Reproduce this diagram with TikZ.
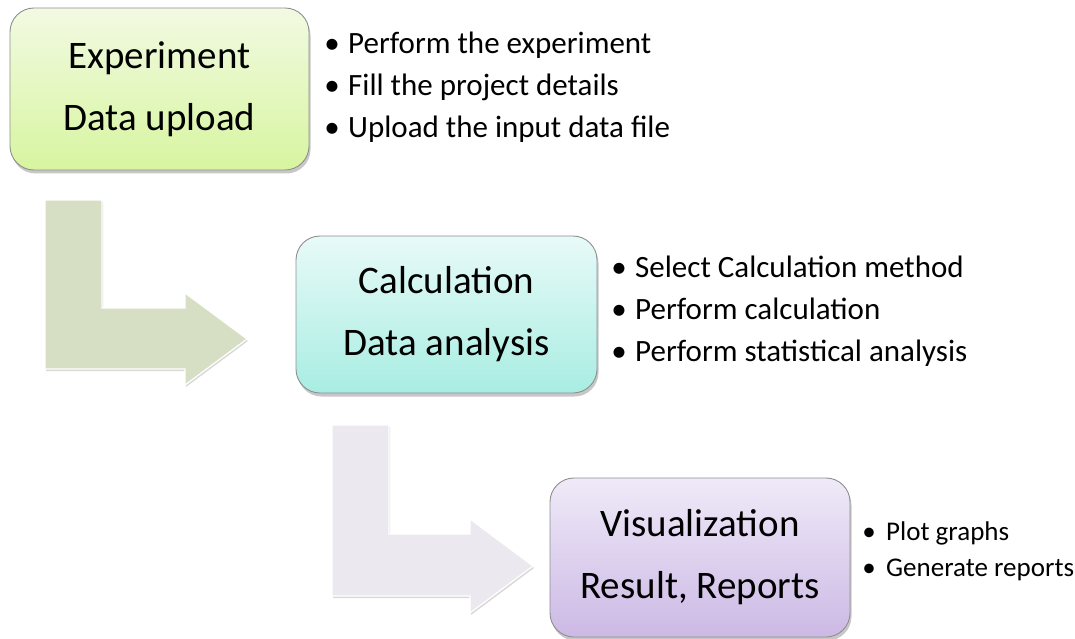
\documentclass[tikz,border=0pt]{standalone}
\usepackage{fontspec}
\setmainfont{Carlito}
\usetikzlibrary{shadows}
\definecolor{gtop}{HTML}{F2FAE2}
\definecolor{gbot}{HTML}{D7F5A0}
\definecolor{ctop}{HTML}{E8FAF8}
\definecolor{cbot}{HTML}{A8EDE2}
\definecolor{ptop}{HTML}{EFEAF8}
\definecolor{pbot}{HTML}{CCB9E5}
\definecolor{arrowA}{HTML}{D6DFC3}
\definecolor{arrowB}{HTML}{EBE9EF}
\definecolor{boxline}{HTML}{8F8F8F}
\begin{document}
\begin{tikzpicture}[x=1pt,y=-1pt,
  stagebox/.style={draw=boxline, line width=0.9pt, rounded corners=24pt,
    align=center, inner sep=0pt,
    font=\fontsize{39}{62}\selectfont,
    drop shadow={shadow xshift=1.5pt, shadow yshift=-3.5pt, fill=black, opacity=0.22}},
  bigarrow/.style={draw=white, line width=1.2pt,
    drop shadow={shadow xshift=1pt, shadow yshift=-2pt, fill=black, opacity=0.15}},
  bulA/.style={anchor=base west, inner sep=0pt, font=\fontsize{31}{37}\selectfont},
  bulB/.style={anchor=base west, inner sep=0pt, font=\fontsize{27}{32}\selectfont}]
\useasboundingbox[fill=white] (0,0) rectangle (1075,639);

% big L-shaped arrows
\filldraw[bigarrow, fill=arrowA] (45,200) -- (102,200) -- (102,308) -- (185,308) -- (185,293)
  -- (247,339) -- (185,385) -- (185,369) -- (45,369) -- cycle;
\filldraw[bigarrow, fill=arrowB] (332,425) -- (389,425) -- (389,534) -- (470,534) -- (470,519)
  -- (533,566) -- (470,613) -- (470,596) -- (332,596) -- cycle;

% stage boxes
\node[stagebox, top color=gtop, bottom color=gbot, minimum width=299pt, minimum height=162pt]
  (s1) at (159.5,89) {Experiment\\Data upload};
\node[stagebox, top color=ctop, bottom color=cbot, minimum width=301pt, minimum height=157pt]
  (s2) at (446.5,314.5) {Calculation\\Data analysis};
\node[stagebox, top color=ptop, bottom color=pbot, minimum width=300pt, minimum height=159pt]
  (s3) at (700,557.5) {Visualization\\Result, Reports};

% bullet lists
\node[bulA] (b11) at (348,54) {\llap{\makebox[32pt]{•}}Perform the experiment};
\node[bulA] (b12) at (348,96) {\llap{\makebox[32pt]{•}}Fill the project details};
\node[bulA] (b13) at (348,138) {\llap{\makebox[32pt]{•}}Upload the input data file};

\node[bulA] (b21) at (635,277) {\llap{\makebox[32pt]{•}}Select Calculation method};
\node[bulA] (b22) at (635,319) {\llap{\makebox[32pt]{•}}Perform calculation};
\node[bulA] (b23) at (635,361) {\llap{\makebox[32pt]{•}}Perform statistical analysis};

\node[bulB] (b31) at (886,540) {\llap{\makebox[34pt]{•}}Plot graphs};
\node[bulB] (b32) at (886,576) {\llap{\makebox[34pt]{•}}Generate reports};
\end{tikzpicture}
\end{document}
